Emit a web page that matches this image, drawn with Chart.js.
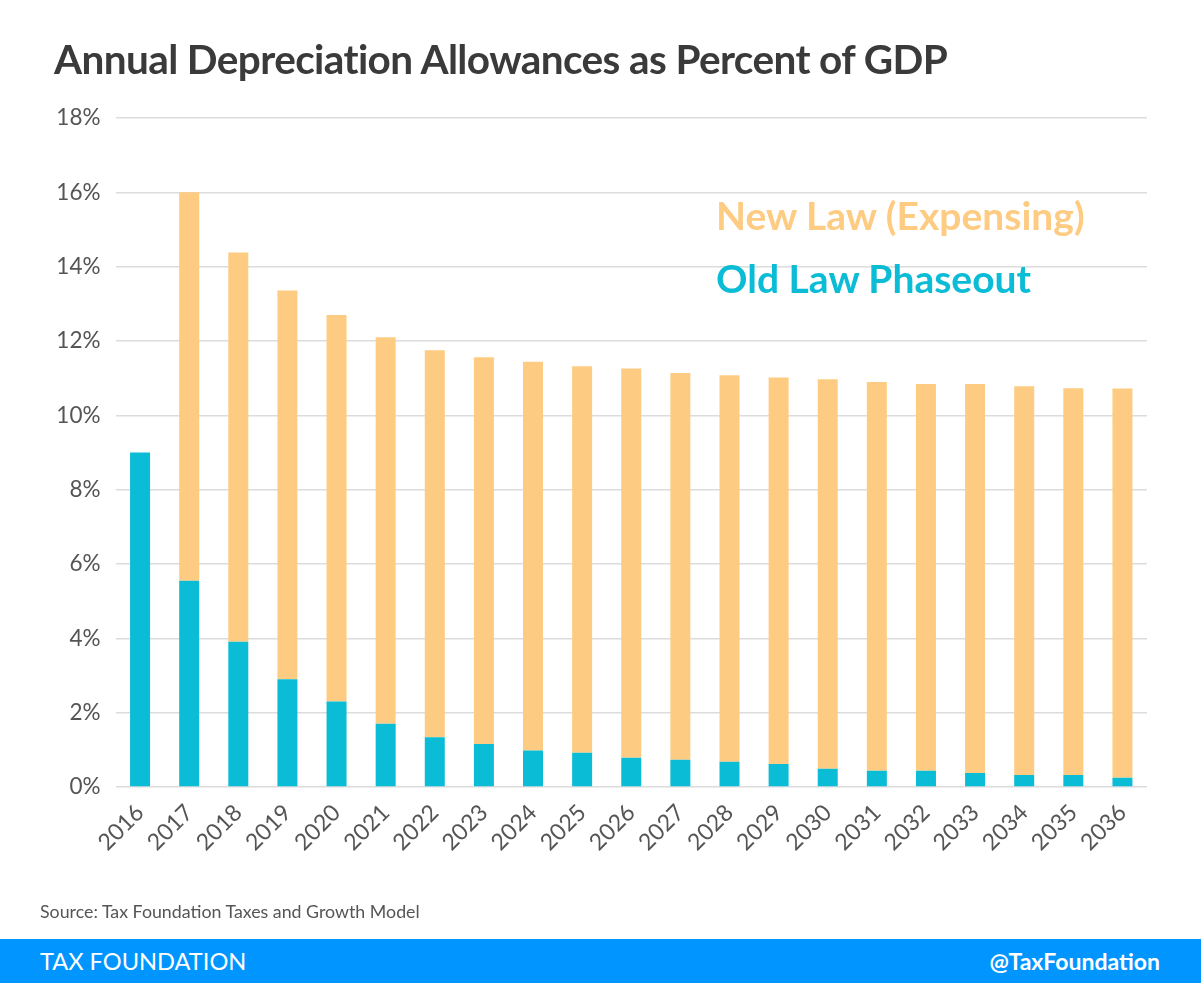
<!DOCTYPE html>
<html>
<head>
<meta charset="utf-8">
<script src="https://cdn.jsdelivr.net/npm/chart.js@4"></script>
<style>
  html,body{margin:0;padding:0;background:#fff;}
  body{width:1201px;height:983px;position:relative;overflow:hidden;font-family:Lato,"Open Sans",sans-serif;}
  #title{position:absolute;left:54px;top:34px;font-size:40.5px;font-weight:700;color:#3a3a3a;letter-spacing:-0.6px;white-space:nowrap;}
  #wrap{position:absolute;left:0;top:0;width:1201px;height:939px;}
  .leg{position:absolute;left:716px;font-size:39px;font-weight:700;white-space:nowrap;}
  #legNew{top:192px;color:#FECB82;}
  #legOld{top:255px;color:#0ABCD5;}
  #source{position:absolute;left:40px;top:900px;font-size:17.8px;color:#555;}
  #footer{position:absolute;left:0;top:939px;width:1201px;height:44px;background:#0095FF;color:#fff;}
  #fl{position:absolute;left:40px;top:8px;font-size:23.6px;}
  #fr{position:absolute;right:41px;top:8px;font-size:23px;font-weight:700;}
</style>
</head>
<body>
<div id="wrap"><canvas id="c"></canvas></div>
<div id="title">Annual Depreciation Allowances as Percent of GDP</div>
<div class="leg" id="legNew">New Law (Expensing)</div>
<div class="leg" id="legOld">Old Law Phaseout</div>
<div id="source">Source: Tax Foundation Taxes and Growth Model</div>
<div id="footer"><span id="fl">TAX FOUNDATION</span><span id="fr">@TaxFoundation</span></div>
<script>
const years = ["2016","2017","2018","2019","2020","2021","2022","2023","2024","2025","2026","2027","2028","2029","2030","2031","2032","2033","2034","2035","2036"];
const oldLaw = [9.0,5.55,3.91,2.90,2.30,1.70,1.34,1.16,0.98,0.92,0.79,0.73,0.68,0.62,0.49,0.44,0.44,0.38,0.32,0.32,0.25];
const newLaw = [0,10.45,10.47,10.46,10.40,10.40,10.41,10.40,10.46,10.40,10.47,10.41,10.40,10.40,10.48,10.46,10.40,10.46,10.46,10.41,10.47];
const yTicks = [0,2,4,6,8,10,12,14,16,18];

const ctx = document.getElementById('c');
new Chart(ctx, {
  type: 'bar',
  data: {
    labels: years,
    datasets: [
      {label:'Old Law Phaseout', data: oldLaw, backgroundColor:'#0ABCD5', borderWidth:0},
      {label:'New Law (Expensing)', data: newLaw, backgroundColor:'#FECB82', borderWidth:0}
    ]
  },
  options: {
    responsive: true,
    maintainAspectRatio: false,
    animation: false,
    layout: {padding: {left: 0, right: 54, top: 118, bottom: 0}},
    plugins: {legend: {display: false}, tooltip: {enabled: false}},
    datasets: {bar: {categoryPercentage: 1.0, barPercentage: 0.407}},
    scales: {
      x: {
        stacked: true,
        grid: {display: false},
        border: {display: false},
        ticks: {
          color: '#555', font: {family: 'Lato', size: 23},
          minRotation: 45, maxRotation: 45, padding: 4, autoSkip: false
        },
        afterFit: (s) => { s.height = 152; }
      },
      y: {
        stacked: true,
        min: 0, max: 18,
        afterBuildTicks: (s) => { s.ticks = yTicks.map(v => ({value: v})); },
        grid: {color: '#DCDCDC', lineWidth: 1.5, drawTicks: false},
        border: {display: false},
        ticks: {
          color: '#555', font: {family: 'Lato', size: 22.5}, padding: 15,
          callback: (v) => v + '%'
        },
        afterFit: (s) => { s.width = 115.5; }
      }
    }
  }
});
</script>
</body>
</html>
